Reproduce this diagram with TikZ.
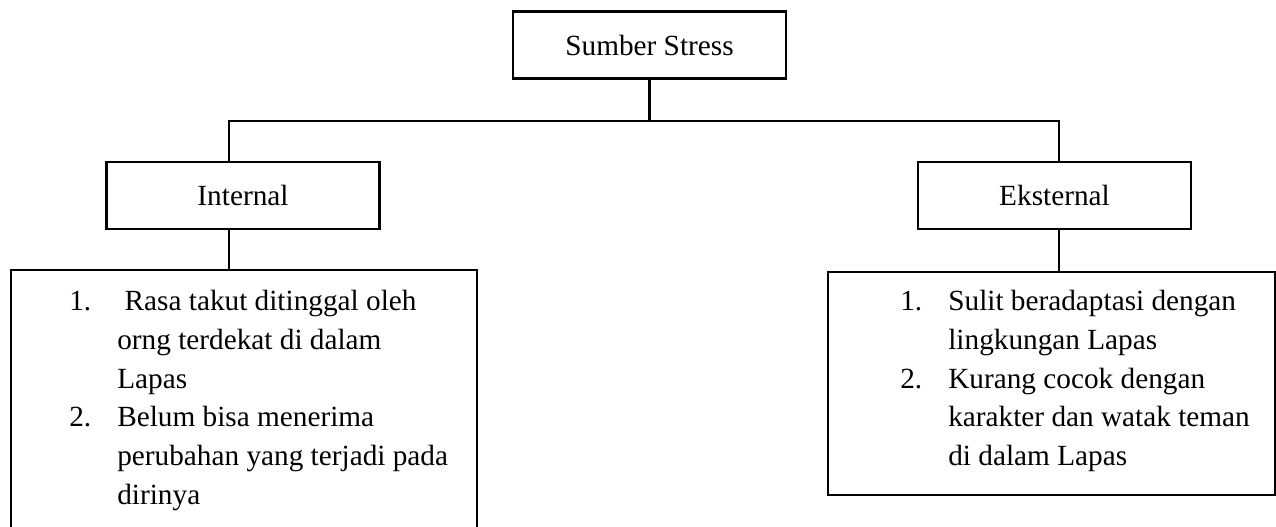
\documentclass[tikz,border=0pt]{standalone}
\usepackage{fontspec}
\setmainfont{Liberation Serif}
\newdimen\pxu \pxu=0.41pt
\newcommand\itm[2]{\strut\makebox[48\pxu][l]{#1}#2}

\begin{document}
\begin{tikzpicture}[x=0.41pt,y=-0.41pt,
	font=\fontsize{12}{15.9}\selectfont,
	line width=1.1pt,
	box/.style={draw, rectangle, minimum width=273\pxu, minimum height=67\pxu, inner sep=0pt},
	listbox/.style={draw, rectangle, inner sep=0pt},
	listtext/.style={align=left, inner sep=0pt, anchor=north west}]
	\useasboundingbox (0,0) rectangle (1276,527);
	\clip (0,0) rectangle (1276,527);
	\node[box] (sumber) at (649.5,45) {Sumber Stress};
	\node[box] (int) at (243,195.5) {Internal};
	\node[box] (eks) at (1054.5,195.5) {Eksternal};
	\node[listbox, minimum width=466\pxu, minimum height=300\pxu] (intlist) at (244,420) {};
	\node[listbox, minimum width=447\pxu, minimum height=223\pxu] (ekslist) at (1051.5,383.5) {};
	\coordinate (barl) at (229,121);
	\coordinate (barr) at (1059,121);
	\draw (sumber.south) -- (sumber.south |- barl);
	\draw (int.north -| barl) -- (barl) -- (barr) -- (eks.north -| barr);
	\draw (int.south -| barl) -- (intlist.north -| barl);
	\draw (eks.south -| barr) -- (ekslist.north -| barr);
	\node[listtext] (inttxt) at (68,282) {%
		\itm{1.}{\ Rasa takut ditinggal oleh}\\
		\itm{}{orng terdekat di dalam}\\
		\itm{}{Lapas}\\
		\itm{2.}{Belum bisa menerima}\\
		\itm{}{perubahan yang terjadi pada}\\
		\itm{}{dirinya}};
	\node[listtext] (ekstxt) at (899,282) {%
		\itm{1.}{Sulit beradaptasi dengan}\\
		\itm{}{lingkungan Lapas}\\
		\itm{2.}{Kurang cocok dengan}\\
		\itm{}{karakter dan watak teman}\\
		\itm{}{di dalam Lapas}};
\end{tikzpicture}
\end{document}
